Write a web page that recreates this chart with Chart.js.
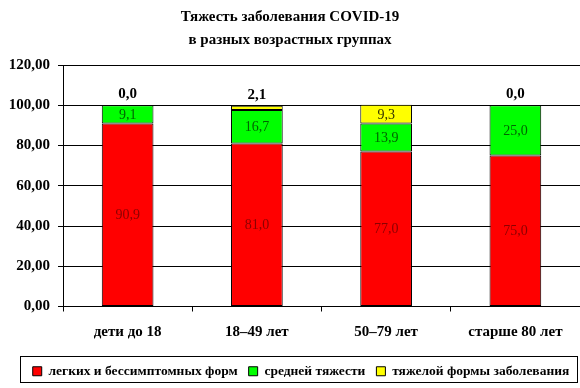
<!DOCTYPE html>
<html>
<head>
<meta charset="utf-8">
<script src="https://cdn.jsdelivr.net/npm/chart.js@4/dist/chart.umd.min.js"></script>
<style>
  html, body { margin: 0; padding: 0; background: #fff; }
  #wrap { width: 580px; height: 388px; position: relative; }
</style>
</head>
<body>
<div id="wrap"><canvas id="chart"></canvas></div>
<script>
// Data
const categories = ['дети до 18', '18–49 лет', '50–79 лет', 'старше 80 лет'];
const mildValues = [90.9, 81.0, 77.0, 75.0];
const moderateValues = [9.1, 16.7, 13.9, 25.0];
const severeValues = [0.0, 2.1, 9.3, 0.0];
const seriesNames = ['легких и бессимптомных форм', 'средней тяжести', 'тяжелой формы заболевания'];
const titleLines = ['Тяжесть заболевания COVID-19', 'в разных возрастных группах'];

const SERIF = '"Liberation Serif", "Times New Roman", serif';
const fmt = v => v.toFixed(1).replace('.', ',');

// Value labels inside segments, small ones above the stack in bold
const valueLabels = {
    id: 'valueLabels',
    afterDatasetsDraw(chart) {
        const ctx = chart.ctx;
        ctx.save();
        ctx.textAlign = 'center';
        ctx.textBaseline = 'middle';
        chart.data.datasets.forEach((ds, di) => {
            const meta = chart.getDatasetMeta(di);
            meta.data.forEach((bar, i) => {
                const v = ds.data[i];
                const h = Math.abs(bar.base - bar.y);
                if (h >= 10) {
                    ctx.font = '14px ' + SERIF;
                    ctx.fillStyle = ds.labelColor;
                    ctx.fillText(fmt(v), bar.x, (bar.y + bar.base) / 2 + 1);
                } else {
                    ctx.font = 'bold 15px ' + SERIF;
                    ctx.fillStyle = '#000';
                    ctx.fillText(fmt(v), bar.x, bar.y - 11);
                }
            });
        });
        ctx.restore();
    }
};

// Frame around the legend, legend nudged right to sit inside it
const legendFrame = {
    id: 'legendFrame',
    afterLayout(chart) {
        chart.legend.left += 11;
        chart.legend.right += 11;
    },
    afterDraw(chart) {
        const ctx = chart.ctx;
        ctx.save();
        ctx.strokeStyle = '#000';
        ctx.lineWidth = 1;
        ctx.strokeRect(20.5, 356.5, 557, 26);
        ctx.restore();
    }
};

new Chart(document.getElementById('chart'), {
    type: 'bar',
    data: {
        labels: categories,
        datasets: [
            { label: seriesNames[0], data: mildValues, backgroundColor: '#ff0000', labelColor: '#8b0000' },
            { label: seriesNames[1], data: moderateValues, backgroundColor: '#00ff00', labelColor: '#006400' },
            { label: seriesNames[2], data: severeValues, backgroundColor: '#ffff00', labelColor: '#333300' }
        ].map(d => Object.assign(d, {
            borderColor: '#000',
            borderWidth: 1,
            borderSkipped: false,
            barPercentage: 0.4,
            categoryPercentage: 1.0
        }))
    },
    options: {
        responsive: true,
        maintainAspectRatio: false,
        animation: false,
        layout: { padding: { left: 0, right: 0, top: 0, bottom: 0 } },
        scales: {
            x: {
                stacked: true,
                grid: { drawOnChartArea: false, drawTicks: true, tickLength: 5, color: '#000', offset: true },
                border: { color: '#000', width: 1 },
                ticks: { color: '#000', font: { family: SERIF, size: 15, weight: 'bold' }, padding: 12 }
            },
            y: {
                stacked: true,
                min: 0,
                max: 120,
                afterFit: s => { s.width = 63; },
                grid: { color: '#000', tickLength: 5 },
                border: { color: '#000', width: 1 },
                ticks: {
                    stepSize: 20,
                    color: '#000',
                    font: { family: SERIF, size: 15, weight: 'bold' },
                    padding: 8,
                    callback: v => v.toFixed(2).replace('.', ',')
                }
            }
        },
        plugins: {
            title: {
                display: true,
                text: titleLines,
                color: '#000',
                font: { family: SERIF, size: 15, weight: 'bold', lineHeight: 1.5 },
                padding: { top: 6, bottom: 14 }
            },
            legend: {
                position: 'bottom',
                labels: {
                    color: '#000',
                    font: { family: SERIF, size: 13.5, weight: 'bold' },
                    boxWidth: 9,
                    boxHeight: 9,
                    padding: 11
                }
            },
            tooltip: { enabled: false }
        }
    },
    plugins: [valueLabels, legendFrame]
});
</script>
</body>
</html>
